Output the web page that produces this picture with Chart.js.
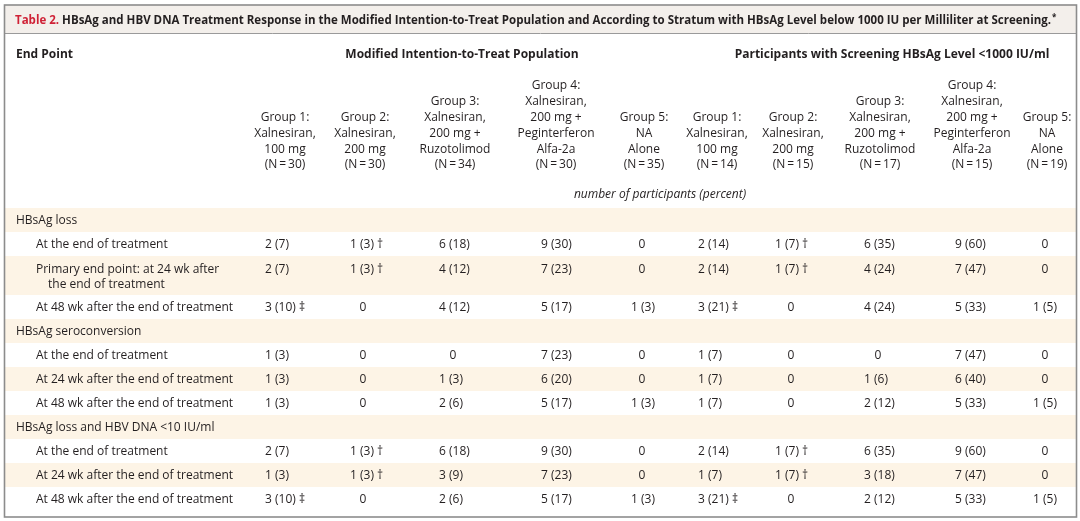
<!DOCTYPE html>
<html>
<head>
<meta charset="utf-8">
<script src="https://cdn.jsdelivr.net/npm/chart.js@4.4.1/dist/chart.umd.min.js"></script>
<style>
  html, body { margin: 0; padding: 0; background: #fff; }
  #wrap { width: 1080px; height: 521px; }
</style>
</head>
<body>
<div id="wrap"><canvas id="table2" width="1080" height="521"></canvas></div>
<script>
/*===== DATA =====*/

const titleLead = "Table 2.";
const titleText = "HBsAg and HBV DNA Treatment Response in the Modified Intention-to-Treat Population and According to Stratum with HBsAg Level below 1000 IU per Milliliter at Screening.";
const firstColHead = "End Point";
const populations = ["Modified Intention-to-Treat Population", "Participants with Screening HBsAg Level <1000 IU/ml"];
const groupLabels = [
    ["Group 1:", "Xalnesiran,", "100 mg"],
    ["Group 2:", "Xalnesiran,", "200 mg"],
    ["Group 3:", "Xalnesiran,", "200 mg +", "Ruzotolimod"],
    ["Group 4:", "Xalnesiran,", "200 mg +", "Peginterferon", "Alfa-2a"],
    ["Group 5:", "NA", "Alone"]
];
const nMITT = [30, 30, 34, 30, 35];
const nLow = [14, 15, 17, 15, 19];
const unitNote = "number of participants (percent)";

const sections = ["HBsAg loss", "HBsAg seroconversion", "HBsAg loss and HBV DNA <10 IU/ml"];
const endPoints = [
    ["At the end of treatment", "Primary end point: at 24 wk after|the end of treatment", "At 48 wk after the end of treatment"],
    ["At the end of treatment", "At 24 wk after the end of treatment", "At 48 wk after the end of treatment"],
    ["At the end of treatment", "At 24 wk after the end of treatment", "At 48 wk after the end of treatment"]
];

// number (percent), per end point row, groups 1-5
const lossMITT = [["2 (7)", "1 (3) †", "6 (18)", "9 (30)", "0"], ["2 (7)", "1 (3) †", "4 (12)", "7 (23)", "0"], ["3 (10) ‡", "0", "4 (12)", "5 (17)", "1 (3)"]];
const lossLow = [["2 (14)", "1 (7) †", "6 (35)", "9 (60)", "0"], ["2 (14)", "1 (7) †", "4 (24)", "7 (47)", "0"], ["3 (21) ‡", "0", "4 (24)", "5 (33)", "1 (5)"]];
const seroMITT = [["1 (3)", "0", "0", "7 (23)", "0"], ["1 (3)", "0", "1 (3)", "6 (20)", "0"], ["1 (3)", "0", "2 (6)", "5 (17)", "1 (3)"]];
const seroLow = [["1 (7)", "0", "0", "7 (47)", "0"], ["1 (7)", "0", "1 (6)", "6 (40)", "0"], ["1 (7)", "0", "2 (12)", "5 (33)", "1 (5)"]];
const dnaMITT = [["2 (7)", "1 (3) †", "6 (18)", "9 (30)", "0"], ["1 (3)", "1 (3) †", "3 (9)", "7 (23)", "0"], ["3 (10) ‡", "0", "2 (6)", "5 (17)", "1 (3)"]];
const dnaLow = [["2 (14)", "1 (7) †", "6 (35)", "9 (60)", "0"], ["1 (7)", "1 (7) †", "3 (18)", "7 (47)", "0"], ["3 (21) ‡", "0", "2 (12)", "5 (33)", "1 (5)"]];

const valuesMITT = [lossMITT, seroMITT, dnaMITT];
const valuesLow = [lossLow, seroLow, dnaLow];

/*===== LAYOUT (table units) =====*/

const colX = [285, 365, 455, 556, 644, 717, 793, 880, 972, 1047];
const valueX = [265, 350, 439, 541, 631, 698, 775, 864, 955, 1033];
const popX = [462, 892];
const firstBodyY = 207;
const rowH = 24;
const twoLineH = 39;
const headLineH = 15.8;
const textDrop = 2;

const INK = "#231f20";
const RED = "#cf2136";
const SHADE = "#fdf4e6";
const FAMILY = '"Open Sans", "Noto Sans", sans-serif';

// size the type by the width of a known string
var fitSize = function(text, style, target) {
    var c = document.createElement("canvas").getContext("2d");
    c.font = style + " 100px " + FAMILY;
    return 100 * target / c.measureText(text).width;
};
const bodySize = fitSize("At 48 wk after the end of treatment", "normal", 197);
const titleSize = fitSize(titleLead + " " + titleText + " ", "bold", 1040);
const font = {
    body: bodySize.toFixed(2) + "px " + FAMILY,
    bold: "bold " + bodySize.toFixed(2) + "px " + FAMILY,
    italic: "italic " + bodySize.toFixed(2) + "px " + FAMILY,
    title: "bold " + titleSize.toFixed(2) + "px " + FAMILY
};

/*===== CELLS =====*/

let cells = [];
let bands = [];

cells.push({ x: 15, y: 19, t: titleLead, a: "left", f: "title", c: RED, rest: titleText });
cells.push({ x: 16, y: 53, t: firstColHead, a: "left", f: "bold" });
populations.forEach((p, i) => cells.push({ x: popX[i], y: 53, t: p, a: "center", f: "bold" }));

[nMITT, nLow].forEach((ns, pi) => {
    ns.forEach((n, g) => {
        let lines = groupLabels[g].concat(["(N\u2009=\u2009" + n + ")"]);
        let c = pi * 5 + g;
        lines.forEach((l, k) => {
            cells.push({ x: colX[c], y: 163 - (lines.length - 1 - k) * headLineH, t: l, a: "center", f: "body" });
        });
    });
});
cells.push({ x: 660, y: 193, t: unitNote, a: "center", f: "italic" });

let yCur = firstBodyY;
let shaded = true;
sections.forEach((s, si) => {
    bands.push([yCur, yCur + rowH, shaded]);
    cells.push({ x: 16, y: yCur + rowH / 2, t: s, a: "left", f: "body" });
    yCur += rowH;
    shaded = !shaded;
    endPoints[si].forEach((ep, ri) => {
        let lines = ep.split("|");
        let h = lines.length > 1 ? twoLineH : rowH;
        let yText = lines.length > 1 ? yCur + 13 : yCur + h / 2;
        bands.push([yCur, yCur + h, shaded]);
        lines.forEach((l, k) => cells.push({ x: k ? 48 : 36, y: yText + k * 15, t: l, a: "left", f: "body" }));
        valuesMITT[si][ri].concat(valuesLow[si][ri]).forEach((v, c) => {
            if (v === "0") cells.push({ x: colX[c] - 2, y: yText, t: v, a: "center", f: "body" });
            else cells.push({ x: valueX[c], y: yText, t: v, a: "left", f: "body" });
        });
        yCur += h;
        shaded = !shaded;
    });
});

/*===== DRAW =====*/

const tablePaint = {
    id: "tablePaint",
    beforeDatasetsDraw(chart) {
        const { ctx, scales: { x, y } } = chart;
        ctx.save();
        ctx.fillStyle = "#fff";
        ctx.fillRect(0, 0, chart.width, chart.height);
        // body bands
        bands.forEach(b => {
            if (!b[2]) return;
            ctx.fillStyle = SHADE;
            ctx.fillRect(x.getPixelForValue(5), y.getPixelForValue(b[0] + 1), x.getPixelForValue(1076) - x.getPixelForValue(5), y.getPixelForValue(b[1] + 1) - y.getPixelForValue(b[0] + 1));
        });
        // title bar
        ctx.fillStyle = "#f3efeb";
        ctx.fillRect(x.getPixelForValue(5), y.getPixelForValue(5), x.getPixelForValue(1076) - x.getPixelForValue(5), y.getPixelForValue(33) - y.getPixelForValue(5));
        ctx.strokeStyle = "#9a9a9a";
        ctx.lineWidth = 1;
        ctx.beginPath();
        ctx.moveTo(x.getPixelForValue(5), y.getPixelForValue(33.5));
        ctx.lineTo(x.getPixelForValue(1076), y.getPixelForValue(33.5));
        ctx.stroke();
        // frame
        ctx.strokeStyle = "#8c8c8c";
        ctx.lineWidth = 1.6;
        ctx.strokeRect(x.getPixelForValue(4.5), y.getPixelForValue(5), x.getPixelForValue(1076.5) - x.getPixelForValue(4.5), y.getPixelForValue(517) - y.getPixelForValue(5));
        ctx.restore();
    },
    afterDatasetsDraw(chart) {
        const ctx = chart.ctx;
        const meta = chart.getDatasetMeta(0);
        const pts = chart.data.datasets[0].data;
        ctx.save();
        ctx.textBaseline = "middle";
        meta.data.forEach((el, i) => {
            const p = pts[i];
            const ty = el.y + textDrop;
            ctx.font = font[p.f];
            ctx.fillStyle = p.c || INK;
            ctx.textAlign = p.a;
            ctx.fillText(p.t, el.x, ty);
            if (p.rest) {
                let xx = el.x + ctx.measureText(p.t + " ").width;
                ctx.fillStyle = INK;
                ctx.fillText(p.rest, xx, ty);
                xx += ctx.measureText(p.rest).width + 1;
                ctx.font = "bold " + (titleSize * 0.7).toFixed(2) + "px " + FAMILY;
                ctx.fillText("*", xx, ty - 3);
            }
        });
        ctx.restore();
    }
};

new Chart("table2", {
    type: "scatter",
    data: {
        datasets: [{
            data: cells,
            pointRadius: 0,
            pointHoverRadius: 0
        }]
    },
    options: {
        responsive: false,
        animation: false,
        events: [],
        layout: { padding: 0 },
        scales: {
            x: { type: "linear", min: 0, max: 1080, display: false },
            y: { type: "linear", min: 0, max: 521, reverse: true, display: false }
        },
        plugins: {
            legend: { display: false },
            tooltip: { enabled: false }
        }
    },
    plugins: [tablePaint]
});
</script>
</body>
</html>
